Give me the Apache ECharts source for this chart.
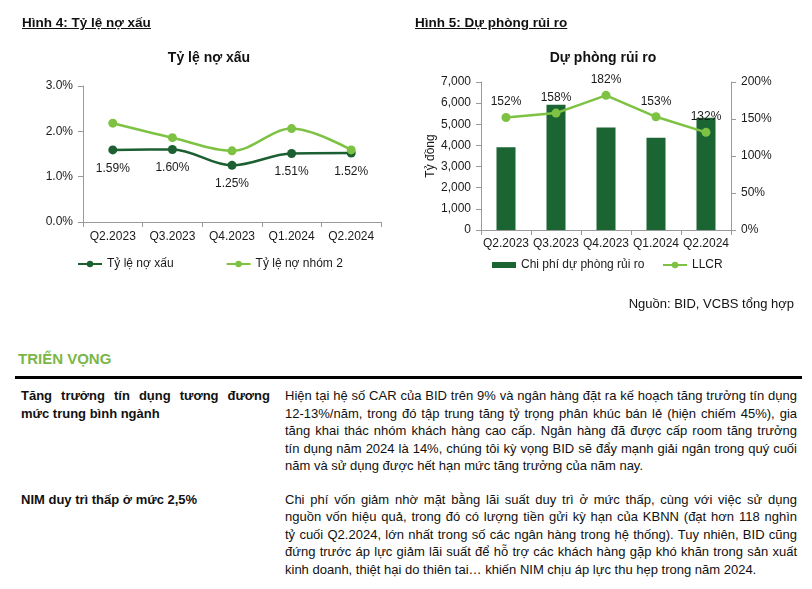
<!DOCTYPE html>
<html>
<head>
<meta charset="utf-8">
<script src="https://cdn.jsdelivr.net/npm/echarts@6/dist/echarts.min.js"></script>
<style>
  html, body { margin:0; padding:0; background:#fff; }
  body { width:812px; height:589px; position:relative; overflow:hidden; font-family:"Liberation Sans", Arial, sans-serif; color:#111; }
  #chart { position:absolute; left:0; top:0; width:812px; height:320px; }
  .abs { position:absolute; white-space:nowrap; }
  .fig { font-weight:bold; font-size:13.5px; line-height:15px; text-decoration:underline; }
  .src { font-size:13px; line-height:16px; }
  .sect { font-weight:bold; font-size:15px; line-height:18px; color:#7ab648; }
  .rule { position:absolute; left:15px; top:376px; width:787px; height:3px; background:#000; }
  .lbl { position:absolute; font-weight:bold; font-size:13px; line-height:17.5px; text-align:justify; }
  .para { position:absolute; font-size:13px; line-height:17.5px; width:512px; }
  .para div { white-space:nowrap; text-align:justify; text-align-last:justify; }
  .para div.last { text-align-last:left; }
</style>
</head>
<body>
<div id="chart"></div>

<div class="abs fig" style="left:22px; top:15px;">Hình 4: Tỷ lệ nợ xấu</div>
<div class="abs fig" style="left:415px; top:15px;">Hình 5: Dự phòng rủi ro</div>
<div class="abs src" style="right:18px; top:296px;">Nguồn: BID, VCBS tổng hợp</div>

<div class="abs sect" style="left:18px; top:350px;">TRIỂN VỌNG</div>
<div class="rule"></div>

<div class="lbl" style="left:21px; top:387px; width:249px;">Tăng trưởng tín dụng tương đương mức trung bình ngành</div>
<div class="para" style="left:285px; top:387px;">
  <div>Hiện tại hệ số CAR của BID trên 9% và ngân hàng đặt ra kế hoạch tăng trưởng tín dụng</div>
  <div>12-13%/năm, trong đó tập trung tăng tỷ trọng phân khúc bán lẻ (hiện chiếm 45%), gia</div>
  <div>tăng khai thác nhóm khách hàng cao cấp. Ngân hàng đã được cấp room tăng trưởng</div>
  <div>tín dụng năm 2024 là 14%, chúng tôi kỳ vọng BID sẽ đẩy mạnh giải ngân trong quý cuối</div>
  <div class="last">năm và sử dụng được hết hạn mức tăng trưởng của năm nay.</div>
</div>

<div class="lbl" style="left:21px; top:490.5px; width:249px;">NIM duy trì thấp ở mức 2,5%</div>
<div class="para" style="left:285px; top:490.5px;">
  <div>Chi phí vốn giảm nhờ mặt bằng lãi suất duy trì ở mức thấp, cùng với việc sử dụng</div>
  <div>nguồn vốn hiệu quả, trong đó có lượng tiền gửi kỳ hạn của KBNN (đạt hơn 118 nghìn</div>
  <div>tỷ cuối Q2.2024, lớn nhất trong số các ngân hàng trong hệ thống). Tuy nhiên, BID cũng</div>
  <div>đứng trước áp lực giảm lãi suất để hỗ trợ các khách hàng gặp khó khăn trong sản xuất</div>
  <div class="last">kinh doanh, thiệt hại do thiên tai… khiến NIM chịu áp lực thu hẹp trong năm 2024.</div>
</div>

<script>
// ---- Data ----
const categories = ['Q2.2023', 'Q3.2023', 'Q4.2023', 'Q1.2024', 'Q2.2024'];
const nplRatio = [1.59, 1.60, 1.25, 1.51, 1.52];        // Tỷ lệ nợ xấu (%)
const group2Ratio = [2.18, 1.86, 1.57, 2.06, 1.59];     // Tỷ lệ nợ nhóm 2 (%)
const provisionCost = [3910, 5920, 4850, 4360, 5310];   // Chi phí dự phòng rủi ro (tỷ đồng)
const llcr = [152, 158, 182, 153, 132];                 // LLCR (%)

const DARK = '#1c5f31';
const BAR = '#1b6533';
const LIGHT = '#7dc242';
const AXIS = '#9a9a9a';
const FONT = '"Liberation Sans", Arial, sans-serif';
const TXT = '#1a1a1a';

const chart = echarts.init(document.getElementById('chart'), null, { renderer: 'canvas' });

const baseLabel = { color: TXT, fontSize: 12, fontFamily: FONT };

chart.setOption({
  animation: false,
  textStyle: { fontFamily: FONT },
  graphic: [
    { type: 'text', x: 209, y: 58, style: { text: 'Tỷ lệ nợ xấu', align: 'center', verticalAlign: 'middle', font: 'bold 14px ' + FONT, fill: '#111' } },
    { type: 'text', x: 603, y: 58, style: { text: 'Dự phòng rủi ro', align: 'center', verticalAlign: 'middle', font: 'bold 14px ' + FONT, fill: '#111' } }
  ],
  grid: [
    { left: 83, top: 86, width: 298, height: 136 },
    { left: 481, top: 82, width: 250, height: 148 }
  ],
  legend: [
    { data: ['Tỷ lệ nợ xấu', 'Tỷ lệ nợ nhóm 2'], left: 77, top: 258, padding: 0, itemWidth: 24, itemHeight: 8, itemGap: 52,
      textStyle: { color: TXT, fontSize: 12, fontFamily: FONT } },
    { data: [{ name: 'Chi phí dự phòng rủi ro', icon: 'rect' }], left: 492, top: 259, padding: 0, itemWidth: 24, itemHeight: 6,
      textStyle: { color: TXT, fontSize: 12, fontFamily: FONT } },
    { data: ['LLCR'], left: 662, top: 259, padding: 0, itemWidth: 24, itemHeight: 8,
      textStyle: { color: TXT, fontSize: 12, fontFamily: FONT } }
  ],
  xAxis: [
    { gridIndex: 0, type: 'category', data: categories, boundaryGap: true,
      axisLine: { lineStyle: { color: AXIS } }, axisTick: { show: true, length: 5, lineStyle: { color: AXIS } },
      axisLabel: Object.assign({ margin: 9, interval: 0 }, baseLabel) },
    { gridIndex: 1, type: 'category', data: categories, boundaryGap: true,
      axisLine: { lineStyle: { color: AXIS } }, axisTick: { show: true, length: 5, lineStyle: { color: AXIS } },
      axisLabel: Object.assign({ margin: 8, interval: 0 }, baseLabel) }
  ],
  yAxis: [
    { gridIndex: 0, type: 'value', min: 0, max: 3, interval: 1,
      axisLine: { show: true, lineStyle: { color: AXIS } }, axisTick: { show: true, length: 5, lineStyle: { color: AXIS } },
      splitLine: { show: false },
      axisLabel: Object.assign({ margin: 10, formatter: v => v.toFixed(1) + '%' }, baseLabel) },
    { gridIndex: 1, type: 'value', min: 0, max: 7000, interval: 1000,
      name: 'Tỷ đồng', nameLocation: 'middle', nameGap: 42, nameRotate: 90,
      nameTextStyle: { color: TXT, fontSize: 12, fontFamily: FONT },
      axisLine: { show: true, lineStyle: { color: AXIS } }, axisTick: { show: true, length: 5, lineStyle: { color: AXIS } },
      splitLine: { show: false },
      axisLabel: Object.assign({ margin: 10, formatter: v => v.toLocaleString('en-US') }, baseLabel) },
    { gridIndex: 1, type: 'value', position: 'right', min: 0, max: 200, interval: 50,
      axisLine: { show: true, lineStyle: { color: AXIS } }, axisTick: { show: true, length: 5, lineStyle: { color: AXIS } },
      splitLine: { show: false },
      axisLabel: Object.assign({ margin: 10, formatter: v => v + '%' }, baseLabel) }
  ],
  series: [
    { name: 'Tỷ lệ nợ nhóm 2', type: 'line', xAxisIndex: 0, yAxisIndex: 0, data: group2Ratio, smooth: 0.35,
      symbol: 'circle', symbolSize: 9, itemStyle: { color: LIGHT }, lineStyle: { color: LIGHT, width: 2.5 }, z: 3 },
    { name: 'Tỷ lệ nợ xấu', type: 'line', xAxisIndex: 0, yAxisIndex: 0, data: nplRatio, smooth: 0.35,
      symbol: 'circle', symbolSize: 9, itemStyle: { color: DARK }, lineStyle: { color: DARK, width: 2.5 }, z: 2,
      label: Object.assign({ show: true, position: 'bottom', distance: 8, formatter: p => p.value.toFixed(2) + '%' }, baseLabel) },
    { name: 'Chi phí dự phòng rủi ro', type: 'bar', xAxisIndex: 1, yAxisIndex: 1, data: provisionCost, barWidth: 19,
      itemStyle: { color: BAR } },
    { name: 'LLCR', type: 'line', xAxisIndex: 1, yAxisIndex: 2, data: llcr, smooth: false,
      symbol: 'circle', symbolSize: 9, itemStyle: { color: LIGHT }, lineStyle: { color: LIGHT, width: 2.5 },
      label: Object.assign({ show: true, position: 'top', distance: 5, formatter: p => p.value + '%' }, baseLabel) }
  ]
});
</script>
</body>
</html>
